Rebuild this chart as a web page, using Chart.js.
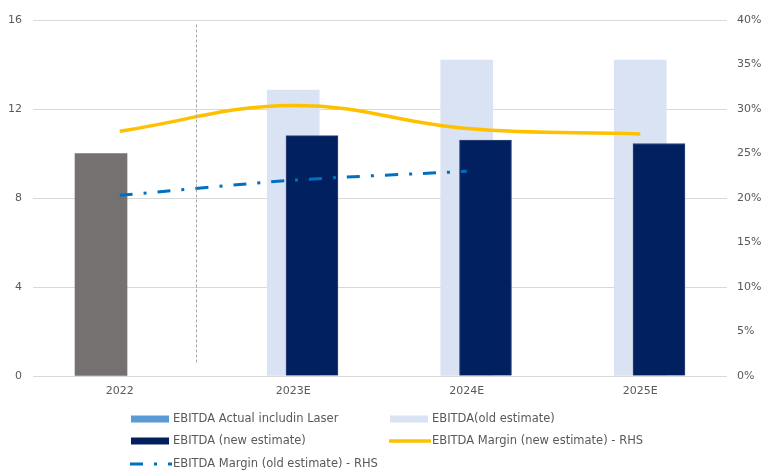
<!DOCTYPE html>
<html>
<head>
<meta charset="utf-8">
<script src="https://cdn.jsdelivr.net/npm/chart.js@4/dist/chart.umd.min.js"></script>
<style>
  html, body { margin: 0; padding: 0; background: #fff; }
  #wrap { width: 765px; height: 470px; position: relative; }
</style>
</head>
<body>
<div id="wrap"><canvas id="ebitdaChart" width="765" height="470"></canvas></div>
<script>
// EBITDA bars (left axis) and EBITDA margin lines (right axis, %)
const categories = ['2022', '2023E', '2024E', '2025E'];
const ebitdaActual = [10.0, null, null, null];
const ebitdaOld = [null, 12.85, 14.2, 14.2];
const ebitdaNew = [null, 10.8, 10.6, 10.45];
const marginNew = [27.5, 30.4, 27.8, 27.2];
const marginOld = [20.3, 22.0, 23.0, null];
const leftTicks = [0, 4, 8, 12, 16];
const rightTicks = [0, 5, 10, 15, 20, 25, 30, 35, 40];

const FONT = '"DejaVu Sans", Verdana, sans-serif';
const TEXT = '#595959';

// overlapping bar groups: each series is nudged off the category centre
const shift = { actual: -0.108, old: 0, fresh: 0.108 };

function points(values, dx) {
    const out = [];
    values.forEach((v, i) => {
        if (v !== null) out.push({ x: i + dx, y: v });
    });
    return out;
}

// dashed separator between actuals and estimates
const dividerPlugin = {
    id: 'divider',
    afterDatasetsDraw(chart) {
        const { ctx, scales: { x, y } } = chart;
        const px = Math.round(x.getPixelForValue(0.44)) + 0.5;
        ctx.save();
        ctx.strokeStyle = '#a6a6a6';
        ctx.lineWidth = 1;
        ctx.setLineDash([3, 2]);
        ctx.beginPath();
        ctx.moveTo(px, y.getPixelForValue(15.8));
        ctx.lineTo(px, y.getPixelForValue(0.6));
        ctx.stroke();
        ctx.restore();
    }
};

// two-column legend under the plot
const legendPlugin = {
    id: 'gridLegend',
    afterDraw(chart) {
        const ctx = chart.ctx;
        const colX = [131, 390];
        const rowY = [419, 441, 464];
        const order = ['actual', 'old', 'fresh', 'mNew', 'mOld'];
        ctx.save();
        ctx.font = '11.5px ' + FONT;
        ctx.textBaseline = 'middle';
        ctx.fillStyle = TEXT;
        order.forEach((key, i) => {
            const ds = chart.data.datasets.find(d => d.key === key);
            const x = colX[i % 2];
            const y = rowY[Math.floor(i / 2)];
            if (ds.type === 'line') {
                ctx.strokeStyle = ds.borderColor;
                ctx.lineWidth = ds.borderWidth;
                ctx.setLineDash(ds.borderDash || []);
                ctx.beginPath();
                ctx.moveTo(x - 1, y);
                ctx.lineTo(x + 41, y);
                ctx.stroke();
                ctx.setLineDash([]);
            } else {
                ctx.fillStyle = ds.legendColor || ds.backgroundColor;
                ctx.fillRect(x, y - 3.5, 38, 7);
            }
            ctx.fillStyle = TEXT;
            ctx.fillText(ds.label, x + 42, y);
        });
        ctx.restore();
    }
};

new Chart(document.getElementById('ebitdaChart'), {
    type: 'bar',
    data: {
        datasets: [
            {
                key: 'mNew', type: 'line', label: 'EBITDA Margin (new estimate) - RHS',
                data: points(marginNew, 0), yAxisID: 'y1',
                borderColor: '#ffc000', borderWidth: 3.5, tension: 0.4,
                pointRadius: 0, fill: false, order: 0
            },
            {
                key: 'mOld', type: 'line', label: 'EBITDA Margin (old estimate) - RHS',
                data: points(marginOld, 0), yAxisID: 'y1',
                borderColor: '#0070c0', borderWidth: 3, borderDash: [13, 11, 3, 11],
                tension: 0.3, pointRadius: 0, fill: false, order: 1
            },
            {
                key: 'fresh', label: 'EBITDA (new estimate)',
                data: points(ebitdaNew, shift.fresh), yAxisID: 'y',
                backgroundColor: '#002060', borderColor: '#34497a', borderWidth: 1,
                grouped: false, barThickness: 52, order: 2
            },
            {
                key: 'old', label: 'EBITDA(old estimate)',
                data: points(ebitdaOld, shift.old), yAxisID: 'y',
                backgroundColor: '#dae3f3', grouped: false, barThickness: 52, order: 3
            },
            {
                key: 'actual', label: 'EBITDA Actual includin Laser',
                data: points(ebitdaActual, shift.actual), yAxisID: 'y',
                backgroundColor: '#767171', legendColor: '#5b9bd5',
                grouped: false, barThickness: 52, order: 4
            }
        ]
    },
    options: {
        responsive: false,
        animation: false,
        layout: { padding: { left: 0, right: 0, top: 20, bottom: 70 } },
        plugins: { legend: { display: false }, tooltip: { enabled: false } },
        scales: {
            x: {
                type: 'linear',
                offset: false,
                min: -0.5,
                max: categories.length - 0.5,
                afterBuildTicks: s => { s.ticks = categories.map((_, i) => ({ value: i })); },
                afterFit: s => { s.height = 24; },
                grid: { display: false, drawTicks: false },
                border: { display: false },
                ticks: {
                    padding: 9,
                    color: TEXT,
                    font: { family: FONT, size: 11 },
                    maxRotation: 0,
                    callback: v => categories[v]
                }
            },
            y: {
                position: 'left',
                min: 0, max: 16,
                afterBuildTicks: s => { s.ticks = leftTicks.map(v => ({ value: v })); },
                afterFit: s => { s.width = 33; },
                grid: { color: '#d9d9d9', lineWidth: 1, drawTicks: false },
                border: { display: false },
                ticks: { padding: 11, color: TEXT, font: { family: FONT, size: 11 } }
            },
            y1: {
                position: 'right',
                min: 0, max: 40,
                afterBuildTicks: s => { s.ticks = rightTicks.map(v => ({ value: v })); },
                afterFit: s => { s.width = 38; },
                grid: { display: false, drawTicks: false },
                border: { display: false },
                ticks: {
                    padding: 10, color: TEXT, font: { family: FONT, size: 11 },
                    callback: v => v + '%'
                }
            }
        }
    },
    plugins: [dividerPlugin, legendPlugin]
});
</script>
</body>
</html>
